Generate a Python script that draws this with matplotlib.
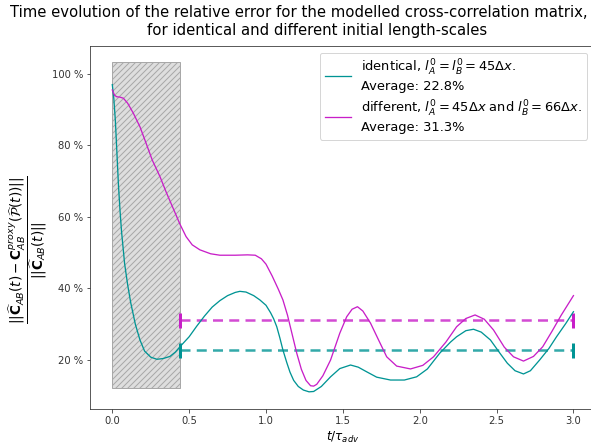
import matplotlib
matplotlib.use("Agg")
import matplotlib.pyplot as plt
from matplotlib.patches import Rectangle
from matplotlib.ticker import FuncFormatter

# relative error, identical initial length-scales
t_ident = [0.00, 0.01, 0.02, 0.03, 0.04, 0.05, 0.06, 0.07, 0.08, 0.10, 0.12, 0.15,
           0.18, 0.21, 0.25, 0.29, 0.33, 0.375, 0.41, 0.44, 0.50, 0.55, 0.60, 0.65,
           0.70, 0.75, 0.80, 0.83, 0.87, 0.92, 0.96, 1.00, 1.03, 1.05, 1.07, 1.09,
           1.11, 1.135, 1.156, 1.18, 1.21, 1.243, 1.28, 1.31, 1.36, 1.42, 1.48, 1.55,
           1.60, 1.655, 1.72, 1.81, 1.90, 1.98, 2.05, 2.13, 2.20, 2.24, 2.30, 2.35,
           2.40, 2.46, 2.52, 2.57, 2.62, 2.675, 2.72, 2.78, 2.84, 2.89, 2.95, 3.00]
err_ident = [97.0, 93.0, 87.0, 78.0, 69.0, 62.0, 56.0, 51.5, 47.0, 41.0, 36.0, 30.0,
             25.6, 22.5, 20.8, 20.2, 20.4, 21.0, 22.2, 23.7, 26.5, 29.5, 32.3, 34.8,
             36.6, 38.0, 38.9, 39.2, 39.0, 38.0, 36.8, 35.3, 33.2, 31.5, 29.3, 26.2,
             22.8, 19.3, 16.6, 14.3, 12.6, 11.6, 11.1, 11.2, 12.6, 15.3, 17.6, 18.6,
             18.0, 16.7, 15.2, 14.4, 14.4, 15.3, 17.5, 21.9, 25.0, 26.5, 28.2, 28.6,
             27.8, 25.6, 22.0, 19.1, 17.0, 16.1, 17.0, 20.0, 23.2, 26.5, 30.2, 33.5]

# relative error, different initial length-scales
t_diff = [0.00, 0.015, 0.03, 0.05, 0.072, 0.10, 0.137, 0.18, 0.22, 0.26, 0.31, 0.35,
          0.40, 0.44, 0.48, 0.52, 0.57, 0.64, 0.70, 0.80, 0.88, 0.93, 0.97, 1.00,
          1.04, 1.08, 1.11, 1.14, 1.17, 1.20, 1.23, 1.26, 1.29, 1.31, 1.33, 1.37,
          1.42, 1.48, 1.525, 1.56, 1.595, 1.63, 1.68, 1.73, 1.785, 1.85, 1.94, 2.02,
          2.09, 2.17, 2.24, 2.30, 2.36, 2.42, 2.48, 2.55, 2.61, 2.675, 2.74, 2.80,
          2.86, 2.92, 3.00]
err_diff = [95.5, 94.0, 93.6, 93.5, 93.2, 91.8, 89.0, 85.2, 80.6, 75.9, 71.3, 67.0,
            62.0, 58.0, 54.5, 52.2, 50.8, 49.7, 49.3, 49.3, 49.4, 49.3, 48.3, 46.8,
            43.5, 39.8, 36.8, 32.5, 27.2, 21.9, 17.4, 14.3, 12.8, 12.7, 13.2, 15.6,
            20.0, 27.5, 32.1, 34.2, 34.9, 33.7, 30.3, 25.8, 20.9, 18.3, 17.5, 18.5,
            20.9, 25.0, 29.3, 31.6, 32.6, 31.4, 28.4, 23.6, 20.9, 19.7, 21.0, 23.7,
            28.0, 32.5, 38.0]

avg_ident = 22.8
avg_diff = 31.3
avg_span = [0.44, 3.0]

# spin-up window (hatched box)
shade_t = [0.0, 0.44]
shade_err = [12.2, 103.2]

fig = plt.figure(figsize=(591 / 72, 447 / 72), dpi=72)
ax = fig.add_axes([90 / 591, 1 - 409 / 447, 506.5 / 591, 363 / 447])

ax.add_patch(Rectangle((shade_t[0], shade_err[0]), shade_t[1] - shade_t[0],
                       shade_err[1] - shade_err[0], facecolor='#dedede',
                       edgecolor='#a8a8a8', hatch='////', lw=1, zorder=1))

teal = '#009494'
mag = '#c81ec8'
ax.plot(t_ident, err_ident, color=teal, lw=1.3, zorder=3,
        label='identical, $l_A^0 = l_B^0 = 45\\Delta x$.\nAverage: %.1f%%' % avg_ident)
ax.plot(t_diff, err_diff, color=mag, lw=1.3, zorder=3,
        label='different, $l_A^0 = 45\\Delta x$ and $l_B^0 = 66\\Delta x$.\nAverage: %.1f%%' % avg_diff)

for avg, col in [(avg_ident, teal), (avg_diff, mag)]:
    ax.plot(avg_span, [avg, avg], color=col, ls='--', lw=2.5, alpha=0.8,
            dashes=(4, 2.5), zorder=2)
    ax.plot(avg_span, [avg, avg], color=col, ls='none', marker='|',
            ms=15, mew=3, zorder=2)

ax.set_xlim(-0.145, 3.15)
ax.set_ylim(6.3, 107.8)
ax.set_yticks([20, 40, 60, 80, 100])
ax.set_xticks([0.0, 0.5, 1.0, 1.5, 2.0, 2.5, 3.0])
ax.yaxis.set_major_formatter(FuncFormatter(lambda v, p: '%d %%' % v))
ax.tick_params(labelsize=10, colors='#333333')
for s in ax.spines.values():
    s.set_color('#333333')

ax.set_xlabel('$t/\\tau_{adv}$', fontsize=12)
ax.set_ylabel('$\\dfrac{||\\widehat{\\mathbf{C}}_{AB}(t) - \\mathbf{C}^{proxy}_{AB}'
              '(\\widehat{\\mathcal{P}}(t))||}{||\\widehat{\\mathbf{C}}_{AB}(t)||}$',
              fontsize=13.5)
ax.yaxis.set_label_coords(-0.08, 0.44)

ax.legend(loc='upper right', fontsize=13, bbox_to_anchor=(0.995, 1.0))

fig.text(0.506, 1 - 17 / 447, 'Time evolution of the relative error for the modelled '
         'cross-correlation matrix,', ha='center', va='baseline', fontsize=14.9)
fig.text(0.536, 1 - 35 / 447, 'for identical and different initial length-scales',
         ha='center', va='baseline', fontsize=14.9)

fig.savefig('out.png', dpi=72)
